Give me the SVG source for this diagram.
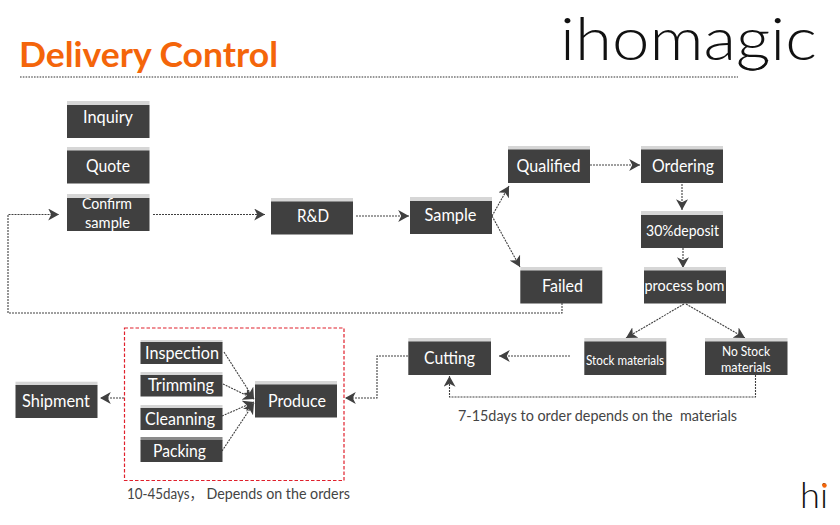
<svg xmlns="http://www.w3.org/2000/svg" width="840" height="525" viewBox="0 0 840 525">
<style>
.bar{fill:#d6d6d6}
.box{fill:#404040}
text{font-family:"Lato","Open Sans","Liberation Sans","Noto Sans CJK SC",sans-serif}
.lbl{fill:#fff;font-size:16.5px;text-anchor:middle}
.sm{font-size:15px}
.xs{font-size:13.5px}
.cap{fill:#444;font-size:14.5px}
.c{fill:none;stroke:#404040;stroke-width:1.1;stroke-dasharray:2 1}
.a{marker-end:url(#arr)}
</style>
<defs>
<marker id="arr" markerUnits="userSpaceOnUse" markerWidth="12" markerHeight="12" refX="9" refY="5" orient="auto" viewBox="0 0 10 10">
<path d="M0 0L9 5L0 10L2.5 5Z" fill="#404040"/>
</marker>
</defs>
<rect width="840" height="525" fill="#fff"/>
<g id="header">
<text x="19" y="67" font-size="34" font-weight="700" fill="#f4650a" textLength="259" lengthAdjust="spacingAndGlyphs">Delivery Control</text>
<line x1="20" y1="77" x2="738" y2="77" stroke="#777" stroke-width="1.6" stroke-dasharray="1.6 1.2"/>
</g>
<g id="logo">
<text x="560" y="60" font-size="59" font-weight="300" fill="#111" textLength="257" lengthAdjust="spacingAndGlyphs">ihomagic</text>
<path d="M739 63Q755 78 768 60M741 66Q755 75 766 64" fill="none" stroke="#111" stroke-width="1.2"/>
</g>
<g id="logo-small">
<text x="800" y="508" font-size="35" font-weight="300" fill="#111" textLength="28" lengthAdjust="spacingAndGlyphs">hi</text>
<circle cx="824.500" cy="485.500" r="2.200" fill="#f4650a"/>
</g>
<g id="connectors">
<path class="c a" d="M8 313V214.500H59"/>
<path class="c" d="M562 303V313H8"/>
<path class="c a" d="M153 214.500H265"/>
<path class="c a" d="M356 216H409"/>
<path class="c a" d="M492 216L509 186"/>
<path class="c a" d="M492 216L520 267"/>
<path class="c a" d="M590 165H640"/>
<path class="c a" d="M682 184V210"/>
<path class="c a" d="M683 248V268"/>
<path class="c a" d="M684 304L626 338"/>
<path class="c a" d="M686 304L745 338"/>
<path class="c a" d="M570 356H499"/>
<path class="c a" d="M755.500 375V397H449.500V376"/>
<path class="c a" d="M408 356H377V398H345"/>
<path class="c a" d="M124 398H100"/>
<path class="c a" d="M224 352L254 399"/>
<path class="c a" d="M223 384L254 399"/>
<path class="c a" d="M222 416L254 402"/>
<path class="c a" d="M222 451L254 403"/>
</g>
<rect id="production-group" x="124.500" y="328" width="219.500" height="152.500" fill="none" stroke="#e0202c" stroke-width="1.2" stroke-dasharray="3.500 2"/>
<g id="inquiry"><rect class="bar" x="67" y="101" width="82.500" height="4"/><rect class="box" x="67" y="105" width="82.500" height="33"/><text class="lbl" x="108" y="123" textLength="50" lengthAdjust="spacingAndGlyphs">Inquiry</text></g>
<g id="quote"><rect class="bar" x="67" y="147" width="82.500" height="4"/><rect class="box" x="67" y="150.500" width="82.500" height="33"/><text class="lbl" x="108" y="172" textLength="44" lengthAdjust="spacingAndGlyphs">Quote</text></g>
<g id="confirm-sample"><rect class="bar" x="67" y="194" width="82.500" height="4"/><rect class="box" x="67" y="198" width="82.500" height="33"/><text class="lbl sm" x="107" y="209" textLength="50" lengthAdjust="spacingAndGlyphs">Confirm</text><text class="lbl sm" x="107.500" y="228" textLength="45" lengthAdjust="spacingAndGlyphs">sample</text></g>
<g id="rd"><rect class="bar" x="271" y="198" width="82" height="4"/><rect class="box" x="271" y="201.500" width="82" height="33"/><text class="lbl" x="313" y="222" textLength="32" lengthAdjust="spacingAndGlyphs">R&amp;D</text></g>
<g id="sample"><rect class="bar" x="410" y="197" width="82" height="4"/><rect class="box" x="410" y="201" width="82" height="33"/><text class="lbl" x="450.500" y="221" textLength="52" lengthAdjust="spacingAndGlyphs">Sample</text></g>
<g id="qualified"><rect class="bar" x="508" y="146" width="82" height="4"/><rect class="box" x="508" y="149.500" width="82" height="33.500"/><text class="lbl" x="548.500" y="172" textLength="64" lengthAdjust="spacingAndGlyphs">Qualified</text></g>
<g id="ordering"><rect class="bar" x="641" y="146" width="82" height="4"/><rect class="box" x="641" y="149.500" width="82" height="33.500"/><text class="lbl" x="683" y="172" textLength="62" lengthAdjust="spacingAndGlyphs">Ordering</text></g>
<g id="deposit"><rect class="bar" x="641" y="211" width="82" height="4"/><rect class="box" x="641" y="215" width="82" height="33"/><text class="lbl sm" x="682.500" y="236" textLength="73" lengthAdjust="spacingAndGlyphs">30%deposit</text></g>
<g id="failed"><rect class="bar" x="520.300" y="267" width="82" height="4"/><rect class="box" x="520.300" y="270.500" width="82" height="33"/><text class="lbl" x="562.500" y="292" textLength="41" lengthAdjust="spacingAndGlyphs">Failed</text></g>
<g id="process-bom"><rect class="bar" x="644" y="267" width="82" height="4"/><rect class="box" x="644" y="270.500" width="82" height="33"/><text class="lbl sm" x="684.500" y="291" textLength="80" lengthAdjust="spacingAndGlyphs">process bom</text></g>
<g id="cutting"><rect class="bar" x="408.300" y="338" width="82.700" height="4"/><rect class="box" x="408.300" y="341.500" width="82.700" height="33.500"/><text class="lbl" x="449.500" y="364" textLength="51" lengthAdjust="spacingAndGlyphs">Cutting</text></g>
<g id="stock"><rect class="bar" x="584.300" y="338" width="82" height="4"/><rect class="box" x="584.300" y="341.500" width="82" height="33.500"/><text class="lbl xs" x="625" y="365" textLength="78" lengthAdjust="spacingAndGlyphs">Stock materials</text></g>
<g id="no-stock"><rect class="bar" x="705" y="338" width="82.500" height="4"/><rect class="box" x="705" y="341.500" width="82.500" height="33.500"/><text class="lbl xs" x="746" y="356" textLength="48" lengthAdjust="spacingAndGlyphs">No Stock</text><text class="lbl xs" x="746" y="372" textLength="50" lengthAdjust="spacingAndGlyphs">materials</text></g>
<g id="shipment"><rect class="bar" x="15.500" y="381.700" width="82" height="4"/><rect class="box" x="15.500" y="385" width="82" height="33"/><text class="lbl" x="56" y="407" textLength="68" lengthAdjust="spacingAndGlyphs">Shipment</text></g>
<g id="produce"><rect class="bar" x="255" y="381" width="82" height="4"/><rect class="box" x="255" y="384.500" width="82" height="33"/><text class="lbl" x="297" y="407" textLength="58" lengthAdjust="spacingAndGlyphs">Produce</text></g>
<g id="inspection"><rect class="bar" x="140.500" y="340" width="82" height="3"/><rect class="box" x="140.500" y="342" width="82" height="22"/><text class="lbl" x="182" y="358.500" textLength="74" lengthAdjust="spacingAndGlyphs">Inspection</text></g>
<g id="trimming"><rect class="bar" x="140.500" y="372" width="82" height="4"/><rect class="box" x="140.500" y="375" width="82" height="21.500"/><text class="lbl" x="181" y="390.500" textLength="66" lengthAdjust="spacingAndGlyphs">Trimming</text></g>
<g id="cleanning"><rect class="bar" x="140.500" y="405" width="82" height="4"/><rect class="box" x="140.500" y="408" width="82" height="22"/><text class="lbl" x="180" y="424.500" textLength="70" lengthAdjust="spacingAndGlyphs">Cleanning</text></g>
<g id="packing"><rect x="140.500" y="437" width="82" height="3.500" fill="#8a8a8a"/><rect class="box" x="140.500" y="440" width="82" height="22"/><text class="lbl" x="179.500" y="456.500" textLength="53" lengthAdjust="spacingAndGlyphs">Packing</text></g>
<text id="note-production" class="cap" x="127" y="499" textLength="76" lengthAdjust="spacingAndGlyphs">10-45days，</text>
<text id="note-production-2" class="cap" x="206.500" y="499" textLength="143.500" lengthAdjust="spacingAndGlyphs">Depends on the orders</text>
<text id="note-materials" class="cap" x="458" y="421" textLength="279" lengthAdjust="spacingAndGlyphs" xml:space="preserve">7-15days to order depends on the  materials</text>
</svg>
